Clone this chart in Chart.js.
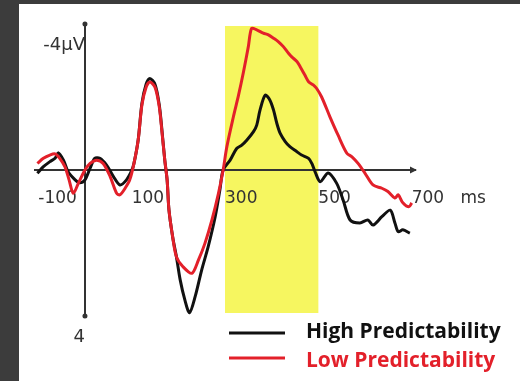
<!DOCTYPE html>
<html>
<head>
<meta charset="utf-8">
<script src="https://cdn.jsdelivr.net/npm/chart.js@4"></script>
<style>
  html, body { margin: 0; padding: 0; }
  body { width: 520px; height: 381px; background: #3c3c3c; position: relative; overflow: hidden; }
  #paper { position: absolute; left: 19px; top: 4px; right: 0; bottom: 0; background: #fff; }
  #erpChart { position: absolute; left: 0; top: 0; }
</style>
</head>
<body>
<div id="paper"></div>
<canvas id="erpChart" width="520" height="381"></canvas>
<script>
// ERP waveforms, time in ms, amplitude in microvolts (negative plotted up)
const seriesLabels = ['High Predictability', 'Low Predictability'];

const highTimes = [-102, -89, -75, -64, -57, -46, -36, -21, -11, 0, 11, 21, 32, 46, 61, 75, 89, 100, 105, 114,
    122, 131, 139, 150, 159, 165, 171, 176, 180, 188, 196, 204, 214, 224, 236, 250, 264, 279, 289, 296, 311,
    325, 336, 347, 361, 368, 375, 386, 396, 404, 411, 418, 429, 439, 454, 464, 479, 486, 493, 504, 521,
    539, 553, 568, 589, 606, 617, 636, 654, 664, 671, 681, 696];
const highValues = [0.09, -0.09, -0.23, -0.32, -0.47, -0.27, 0.05, 0.27, 0.35, 0.27, -0.05, -0.32, -0.32, -0.14, 0.18, 0.41, 0.27, 0.02, -0.18, -0.82,
    -1.82, -2.35, -2.51, -2.35, -1.80, -1.08, -0.27, 0.27, 1.10, 1.84, 2.38, 3.01, 3.56, 3.91, 3.47, 2.74, 2.10, 1.28, 0.55, 0, -0.27,
    -0.59, -0.68, -0.82, -1.05, -1.23, -1.64, -2.05, -1.92, -1.64, -1.28, -1.01, -0.78, -0.64, -0.50, -0.41, -0.32, -0.18, 0.05, 0.32, 0.08,
    0.36, 0.82, 1.37, 1.45, 1.37, 1.51, 1.28, 1.10, 1.45, 1.69, 1.64, 1.73];

const lowTimes = [-102, -89, -75, -64, -54, -43, -34, -25, -14, 0, 11, 25, 39, 54, 68, 75, 86, 96, 105, 114,
    122, 131, 139, 150, 159, 165, 171, 176, 180, 188, 196, 210, 229, 243, 257, 272, 286, 296, 304, 318,
    329, 339, 350, 357, 368, 382, 393, 404, 414, 425, 436, 443, 454, 461, 471, 479, 489, 496, 507, 525,
    542, 561, 572, 585, 600, 617, 636, 649, 664, 671, 681, 694, 700];
const lowValues = [-0.18, -0.32, -0.41, -0.44, -0.32, -0.09, 0.27, 0.64, 0.36, 0, -0.18, -0.27, -0.18, 0.18, 0.64, 0.68, 0.50, 0.27, -0.18, -0.82,
    -1.78, -2.27, -2.41, -2.27, -1.75, -1.04, -0.27, 0.27, 1.10, 1.84, 2.38, 2.65, 2.83, 2.47, 2.01, 1.37, 0.64, 0, -0.64, -1.46,
    -2.05, -2.65, -3.38, -3.88, -3.84, -3.75, -3.70, -3.61, -3.52, -3.38, -3.20, -3.10, -2.97, -2.83, -2.60, -2.42, -2.33, -2.24, -2.00, -1.45,
    -0.96, -0.46, -0.36, -0.18, 0.09, 0.41, 0.50, 0.59, 0.77, 0.68, 0.90, 1.01, 0.90];

const xTicks = [-100, 100, 300, 500, 700];
const xTickLabels = ['-100', '100', '300', '500', '700   ms'];
const yTicks = [-4, 4];
const yTickLabels = ['-4\u03BCV', '4'];

// N400 analysis window
const windowStart = 300;
const windowEnd = 500;

const axisColor = '#333';

function toPoints(times, values) {
    return times.map((t, i) => ({ x: t, y: values[i] }));
}

// yellow window, drawn under the axes
const windowBox = {
    id: 'windowBox',
    beforeDraw(chart) {
        const { ctx, scales: { x, y } } = chart;
        const left = x.getPixelForValue(windowStart);
        const right = x.getPixelForValue(windowEnd);
        const top = y.getPixelForValue(yTicks[0]) + 2;
        const bottom = y.getPixelForValue(yTicks[1]) - 3;
        ctx.save();
        ctx.fillStyle = 'rgb(246, 246, 96)';
        ctx.fillRect(left, top, right - left, bottom - top);
        ctx.restore();
    }
};

// dots on the voltage axis ends, arrow on the time axis
const axisCaps = {
    id: 'axisCaps',
    beforeDatasetsDraw(chart) {
        const { ctx, scales: { x, y } } = chart;
        const x0 = x.getPixelForValue(0);
        const y0 = y.getPixelForValue(0);
        ctx.save();
        ctx.fillStyle = axisColor;
        [y.top, y.bottom].forEach((py) => {
            ctx.beginPath();
            ctx.arc(x0, py, 2.5, 0, Math.PI * 2);
            ctx.fill();
        });
        ctx.beginPath();
        ctx.moveTo(x.right + 2, y0);
        ctx.lineTo(x.right - 5, y0 - 3.5);
        ctx.lineTo(x.right - 5, y0 + 3.5);
        ctx.closePath();
        ctx.fill();
        ctx.restore();
    }
};

// legend: line sample + bold label, bottom right
const lineLegend = {
    id: 'lineLegend',
    afterDraw(chart) {
        const ctx = chart.ctx;
        ctx.save();
        chart.data.datasets.forEach((ds, i) => {
            const ly = 333 + i * 25;
            ctx.strokeStyle = ds.borderColor;
            ctx.lineWidth = 3;
            ctx.beginPath();
            ctx.moveTo(229, ly);
            ctx.lineTo(285, ly);
            ctx.stroke();
            ctx.fillStyle = ds.borderColor;
            ctx.font = 'bold 21px "Open Sans"';
            ctx.textBaseline = 'alphabetic';
            ctx.fillText(ds.label, 306, 338 + i * 29);
        });
        ctx.restore();
    }
};

const ctx = document.getElementById('erpChart').getContext('2d');
new Chart(ctx, {
    type: 'line',
    data: {
        datasets: [
            {
                label: seriesLabels[0],
                data: toPoints(highTimes, highValues),
                borderColor: '#111111',
                borderWidth: 3,
                pointRadius: 0,
                tension: 0.3,
                order: 1
            },
            {
                label: seriesLabels[1],
                data: toPoints(lowTimes, lowValues),
                borderColor: '#e3202a',
                borderWidth: 3,
                pointRadius: 0,
                tension: 0.3,
                order: 0
            }
        ]
    },
    options: {
        responsive: false,
        animation: false,
        layout: { padding: { left: 35, top: 24, right: 105, bottom: 65 } },
        plugins: {
            legend: { display: false },
            tooltip: { enabled: false }
        },
        scales: {
            x: {
                type: 'linear',
                min: -107,
                max: 707,
                position: { y: 0 },
                grid: { display: false, drawTicks: false },
                border: { display: true, color: axisColor, width: 2 },
                afterBuildTicks: (scale) => { scale.ticks = xTicks.map((v) => ({ value: v })); },
                afterFit: (scale) => { scale.height = 0; },
                ticks: {
                    align: 'start',
                    padding: 18,
                    color: axisColor,
                    font: { family: '"DejaVu Sans"', size: 17 },
                    autoSkip: false,
                    maxRotation: 0,
                    callback: (value, index) => xTickLabels[index]
                }
            },
            y: {
                type: 'linear',
                min: -4,
                max: 4,
                reverse: true,
                position: { x: 0 },
                grid: { display: false, drawTicks: false },
                border: { display: true, color: axisColor, width: 2 },
                afterBuildTicks: (scale) => { scale.ticks = yTicks.map((v) => ({ value: v })); },
                afterFit: (scale) => { scale.width = 0; },
                ticks: {
                    padding: 8,
                    labelOffset: 21,
                    color: axisColor,
                    font: { family: '"DejaVu Sans"', size: 18 },
                    callback: (value, index) => yTickLabels[index]
                }
            }
        }
    },
    plugins: [windowBox, axisCaps, lineLegend]
});
</script>
</body>
</html>
